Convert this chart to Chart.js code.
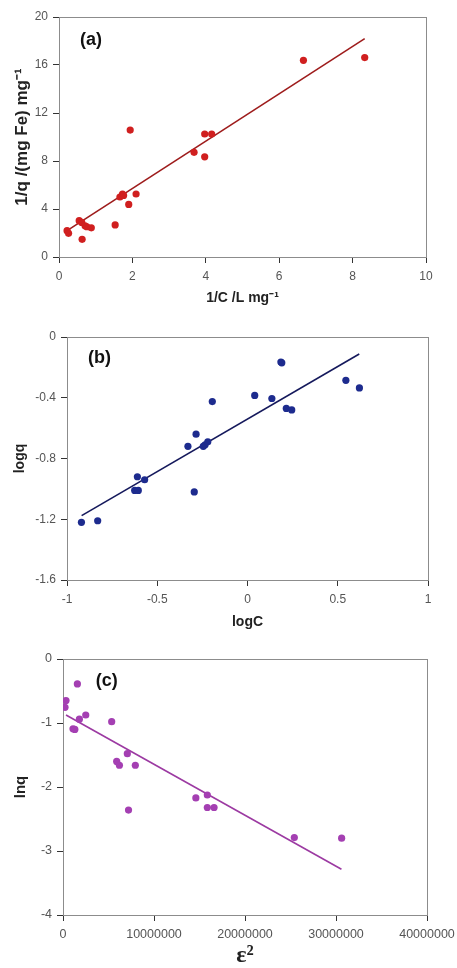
<!DOCTYPE html>
<html>
<head>
<meta charset="utf-8">
<script src="https://cdn.jsdelivr.net/npm/chart.js@4.4.1/dist/chart.umd.min.js"></script>
<style>
  html, body { margin: 0; padding: 0; background: #fff; }
  body { width: 457px; height: 968px; position: relative; overflow: hidden; }
  .panel { position: absolute; left: 0; width: 457px; }
</style>
</head>
<body>
<div class="panel" style="top:0;height:320px"><canvas id="chartA"></canvas></div>
<div class="panel" style="top:320px;height:320px"><canvas id="chartB"></canvas></div>
<div class="panel" style="top:640px;height:328px"><canvas id="chartC"></canvas></div>
<script>
// (a) Langmuir: 1/q vs 1/C
const xA = [0.22, 0.26, 0.55, 0.62, 0.63, 0.71, 0.76, 0.88, 1.53, 1.66, 1.73, 1.76, 1.90, 1.94, 2.10, 3.68, 3.97, 3.97, 4.16, 6.66, 8.33];
const yA = [2.19, 1.97, 3.03, 2.88, 1.47, 2.60, 2.52, 2.43, 2.67, 5.00, 5.25, 5.13, 4.38, 10.58, 5.25, 8.72, 10.25, 8.35, 10.25, 16.39, 16.62];
const fitXA = [0.22, 8.33];
const fitYA = [2.2, 18.2];

// (b) Freundlich: logq vs logC
const xB = [-0.92, -0.83, -0.625, -0.605, -0.61, -0.57, -0.33, -0.295, -0.285, -0.245, -0.235, -0.22, -0.195, 0.04, 0.135, 0.185, 0.19, 0.215, 0.245, 0.545, 0.62];
const yB = [-1.22, -1.21, -1.01, -1.01, -0.92, -0.94, -0.72, -1.02, -0.64, -0.72, -0.71, -0.69, -0.425, -0.385, -0.405, -0.165, -0.17, -0.47, -0.48, -0.285, -0.335];
const fitXB = [-0.919, 0.619];
const fitYB = [-1.176, -0.112];

// (c) D-R: lnq vs eps^2
const xC = [220000, 330000, 1580000, 1100000, 1300000, 1800000, 2500000, 5350000, 5900000, 6200000, 7070000, 7200000, 7950000, 14600000, 15860000, 15860000, 16600000, 25420000, 30620000];
const yC = [-0.755, -0.65, -0.39, -1.09, -1.10, -0.94, -0.875, -0.98, -1.60, -1.66, -1.48, -2.36, -1.66, -2.17, -2.125, -2.32, -2.32, -2.79, -2.80];
const fitXC = [330000, 30600000];
const fitYC = [-0.875, -3.286];

const toPoints = (xs, ys) => xs.map((x, i) => ({ x: x, y: ys[i] }));

// gray plot-area frame, like the Excel original
const frame = {
  id: 'frame',
  beforeDatasetsDraw(chart) {
    const { ctx, chartArea: a } = chart;
    ctx.save();
    ctx.strokeStyle = '#8c8c8c';
    ctx.lineWidth = 1;
    ctx.strokeRect(a.left + 0.5, a.top + 0.5, a.right - a.left, a.bottom - a.top);
    ctx.restore();
  }
};

// the (a)/(b)/(c) tag inside the plot
const panelLabel = {
  id: 'panelLabel',
  afterDraw(chart, args, opts) {
    if (!opts.text) return;
    const { ctx, scales } = chart;
    ctx.save();
    ctx.font = 'bold 18px "Liberation Sans", Arial, sans-serif';
    ctx.fillStyle = '#111';
    ctx.textAlign = 'center';
    ctx.textBaseline = 'middle';
    ctx.fillText(opts.text, scales.x.getPixelForValue(opts.x), scales.y.getPixelForValue(opts.y));
    ctx.restore();
  }
};

function makeChart(id, cfg) {
  const tickFont = { family: '"Liberation Sans", Arial, sans-serif', size: cfg.tickSize };
  const axisGrid = { display: true, drawOnChartArea: false, drawTicks: true, tickLength: 6, color: '#333' };
  return new Chart(document.getElementById(id), {
    type: 'scatter',
    data: {
      datasets: [
        {
          data: toPoints(cfg.xs, cfg.ys),
          backgroundColor: cfg.dot,
          borderColor: cfg.dot,
          pointRadius: 3.6,
          pointHoverRadius: 3.6,
          borderWidth: 0
        },
        {
          type: 'line',
          data: toPoints(cfg.fitX, cfg.fitY),
          borderColor: cfg.line,
          borderWidth: 1.6,
          pointRadius: 0,
          fill: false
        }
      ]
    },
    options: {
      responsive: true,
      maintainAspectRatio: false,
      animation: false,
      layout: { autoPadding: false, padding: { left: 0, right: cfg.padRight, top: cfg.padTop, bottom: 0 } },
      plugins: {
        legend: { display: false },
        tooltip: { enabled: false },
        panelLabel: cfg.tag
      },
      scales: {
        x: {
          type: 'linear',
          min: cfg.xMin,
          max: cfg.xMax,
          afterFit: (s) => { s.height = cfg.xAxisH; s.paddingLeft = 0; s.paddingRight = 0; },
          border: { display: true, color: '#333', width: 1 },
          grid: axisGrid,
          ticks: {
            stepSize: cfg.xStep,
            padding: cfg.xTickPad,
            color: '#555',
            font: tickFont,
            maxRotation: 0,
            callback: (v) => String(Math.round(v * 100) / 100)
          },
          title: {
            display: true,
            text: cfg.xTitle,
            color: '#222',
            font: cfg.xTitleFont,
            padding: { top: 0, bottom: cfg.xTitlePad }
          }
        },
        y: {
          type: 'linear',
          min: cfg.yMin,
          max: cfg.yMax,
          afterFit: (s) => { s.width = cfg.yAxisW; s.paddingTop = 0; s.paddingBottom = 0; },
          border: { display: true, color: '#333', width: 1 },
          grid: axisGrid,
          ticks: {
            stepSize: cfg.yStep,
            padding: 5,
            color: '#555',
            font: tickFont,
            callback: (v) => String(Math.round(v * 100) / 100)
          },
          title: {
            display: true,
            text: cfg.yTitle,
            color: '#222',
            font: { family: '"Liberation Sans", Arial, sans-serif', size: cfg.yTitleSize, weight: 'bold' },
            padding: { top: 12, bottom: 0 }
          }
        }
      }
    },
    plugins: [frame, panelLabel]
  });
}

makeChart('chartA', {
  xs: xA, ys: yA, fitX: fitXA, fitY: fitYA,
  dot: '#d01f1f', line: '#9e1c1c',
  xMin: 0, xMax: 10, xStep: 2, yMin: 0, yMax: 20, yStep: 4,
  padRight: 31, padTop: 17, yAxisW: 59, xAxisH: 63, xTickPad: 6, xTitlePad: 13,
  tickSize: 12,
  xTitle: '1/C /L mg\u207B\u00B9',
  xTitleFont: { family: '"Liberation Sans", Arial, sans-serif', size: 14, weight: 'bold' },
  yTitle: '1/q /(mg Fe) mg\u207B\u00B9',
  yTitleSize: 17,
  tag: { text: '(a)', x: 0.87, y: 18.1 }
});

makeChart('chartB', {
  xs: xB, ys: yB, fitX: fitXB, fitY: fitYB,
  dot: '#1d2b8e', line: '#15195c',
  xMin: -1, xMax: 1, xStep: 0.5, yMin: -1.6, yMax: 0, yStep: 0.4,
  padRight: 29, padTop: 17, yAxisW: 67, xAxisH: 60, xTickPad: 6, xTitlePad: 9,
  tickSize: 12,
  xTitle: 'logC',
  xTitleFont: { family: '"Liberation Sans", Arial, sans-serif', size: 14, weight: 'bold' },
  yTitle: 'logq',
  yTitleSize: 14,
  tag: { text: '(b)', x: -0.82, y: -0.14 }
});

makeChart('chartC', {
  xs: xC, ys: yC, fitX: fitXC, fitY: fitYC,
  dot: '#a43fb2', line: '#9c3aa2',
  xMin: 0, xMax: 40000000, xStep: 10000000, yMin: -4, yMax: 0, yStep: 1,
  padRight: 30, padTop: 19, yAxisW: 63, xAxisH: 53, xTickPad: 6, xTitlePad: 0,
  tickSize: 12.5,
  xTitle: '\u03B5\u00B2',
  xTitleFont: { family: '"Liberation Serif", "Times New Roman", serif', size: 24, weight: 'bold', lineHeight: 1.0 },
  yTitle: 'lnq',
  yTitleSize: 15,
  tag: { text: '(c)', x: 4800000, y: -0.35 }
});
</script>
</body>
</html>
